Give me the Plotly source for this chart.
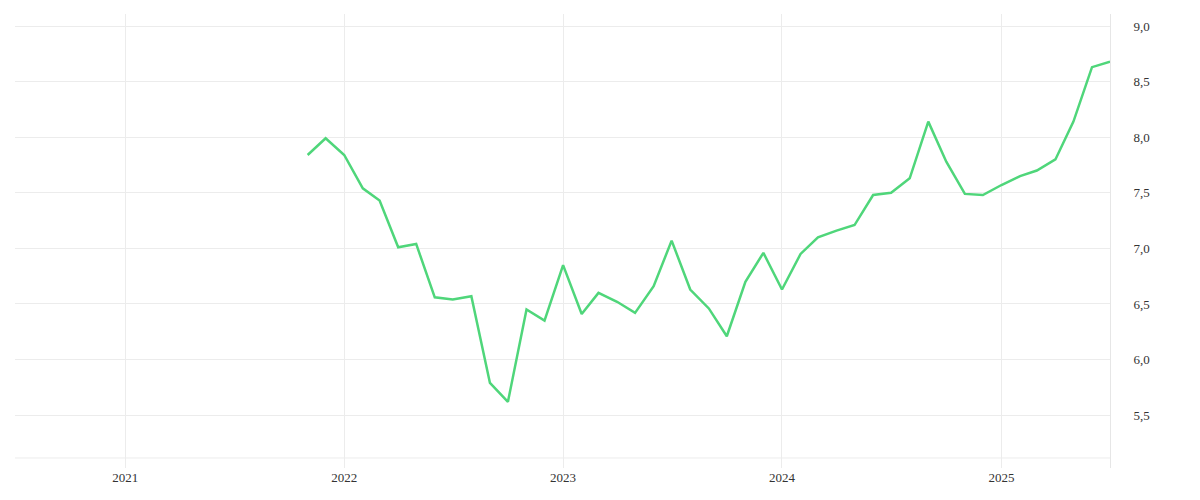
import plotly.graph_objects as go
import pandas as pd

months = pd.date_range("2021-11-01", "2025-07-01", freq="MS")
values = [7.84, 7.99, 7.84, 7.54, 7.43, 7.01, 7.04, 6.56, 6.54, 6.57, 5.79, 5.62,
          6.45, 6.35, 6.85, 6.41, 6.60, 6.52, 6.42, 6.66, 7.07, 6.63, 6.46, 6.21,
          6.70, 6.96, 6.63, 6.95, 7.10, 7.16, 7.21, 7.48, 7.50, 7.63, 8.14, 7.78,
          7.49, 7.48, 7.57, 7.65, 7.70, 7.80, 8.14, 8.63, 8.68]
yticks = [5.5, 6.0, 6.5, 7.0, 7.5, 8.0, 8.5, 9.0]
ytick_labels = [f"{v:.1f}".replace(".", ",") for v in yticks]
xticks = ["2021-01-01", "2022-01-01", "2023-01-01", "2024-01-01", "2025-01-01"]
xtick_labels = ["2021", "2022", "2023", "2024", "2025"]

fig = go.Figure(go.Scatter(x=months, y=values, mode="lines",
                           line=dict(color="#4fd67a", width=2.5)))
fig.update_layout(
    width=1200, height=500, margin=dict(l=7, r=98, t=6, b=40),
    plot_bgcolor="white", paper_bgcolor="white", showlegend=False,
    font=dict(family="Liberation Serif", size=13, color="#333"),
    xaxis=dict(range=["2020-07-01", "2025-07-01"], tickvals=xticks, ticktext=xtick_labels,
               showgrid=True, gridcolor="#ececec", zeroline=False, ticks=""),
    yaxis=dict(side="right", range=[5.025, 9.108], tickvals=yticks, ticktext=ytick_labels,
               showgrid=True, gridcolor="#ececec", zeroline=False, showline=True,
               linecolor="#e6e6e6", ticks="", ticklabelstandoff=20),
    shapes=[dict(type="line", xref="paper", x0=0, x1=1, yref="y", y0=5.115, y1=5.115,
                 line=dict(color="#ececec", width=1), layer="below")],
)
fig.write_html("out.html")
